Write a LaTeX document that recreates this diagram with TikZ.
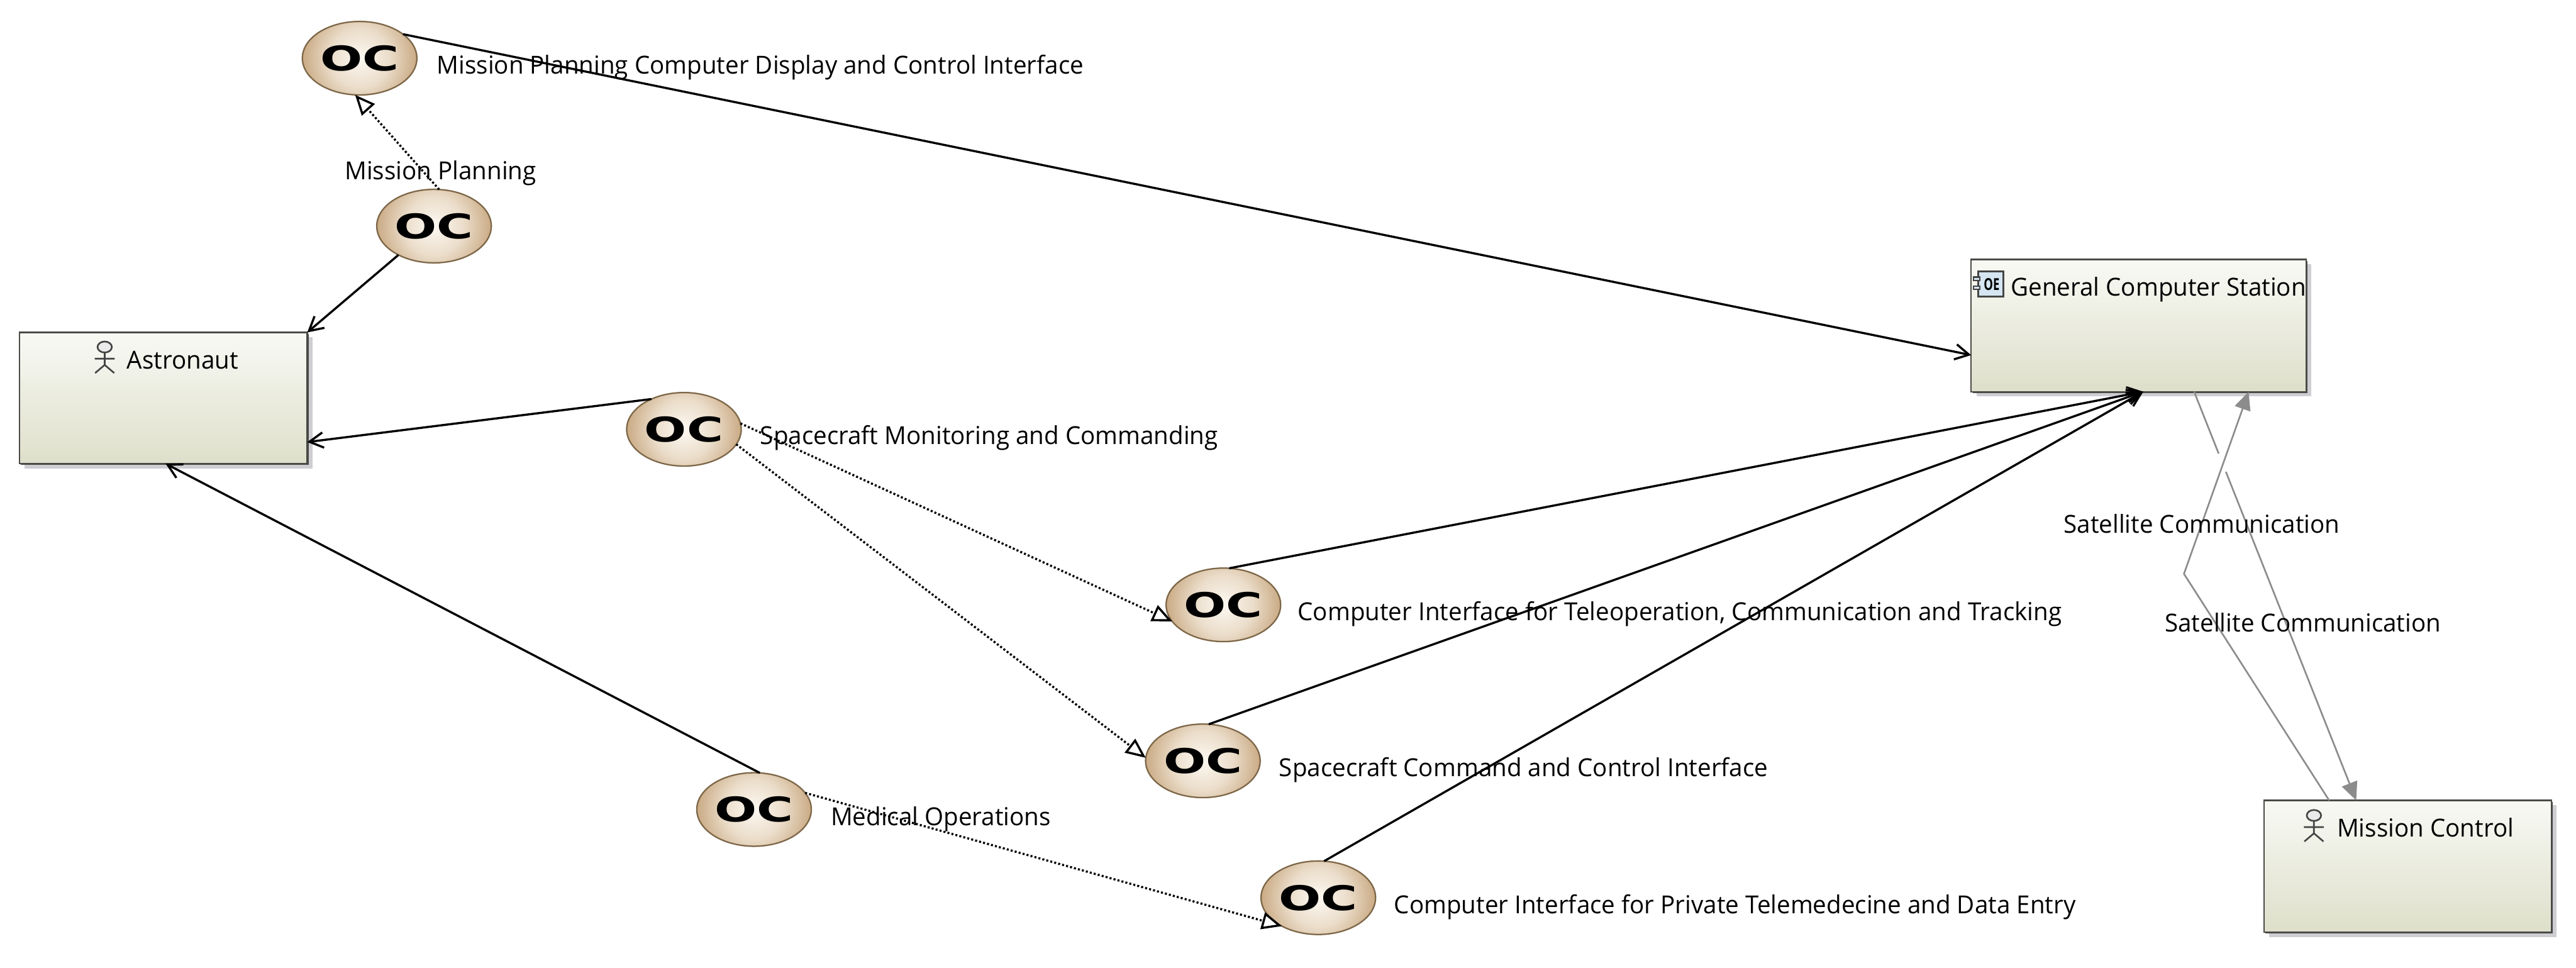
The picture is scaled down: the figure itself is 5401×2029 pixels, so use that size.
\documentclass[tikz,border=0pt]{standalone}
\usepackage{fontspec}
\usepackage{graphicx}
\usetikzlibrary{arrows.meta,shapes.geometric,shadows,calc}
\newfontfamily\lblfont[FakeStretch=0.977]{Open Sans}
\newfontfamily\ocfont[BoldFont={DejaVu Sans Bold}]{DejaVu Sans}
\definecolor{boxtop}{HTML}{F8F9F4}
\definecolor{boxbot}{HTML}{DEDFCA}
\definecolor{boxline}{HTML}{4A4A46}
\definecolor{shadowgrey}{HTML}{CDCDD2}
\definecolor{ocline}{HTML}{7D6748}
\definecolor{linkgrey}{HTML}{8C8C8C}
\definecolor{actline}{HTML}{454545}
\definecolor{compfill}{HTML}{D5E6F2}
\pgfdeclareradialshading{ocrad}{\pgfpointorigin}{%
  rgb(0bp)=(0.99,0.975,0.95);
  rgb(12.5bp)=(0.92,0.865,0.79);
  rgb(25bp)=(0.78,0.65,0.495);
  rgb(50bp)=(0.78,0.65,0.495)}
\tikzset{
  ocnode/.style={ellipse,draw=ocline,line width=0.03cm,minimum width=2.4cm,minimum height=1.54cm,
    inner sep=0pt,outer sep=0pt,
    path picture={\shade[shading=ocrad] (path picture bounding box.center) circle (1.25cm);}},
  boxnode/.style={rectangle,draw=boxline,line width=0.03cm,top color=boxtop,bottom color=boxbot,
    inner sep=0pt,outer sep=0pt,
    drop shadow={shadow xshift=0.11cm,shadow yshift=-0.1cm,fill=shadowgrey,opacity=1},
    drop shadow={shadow xshift=0.03cm,shadow yshift=-0.03cm,fill=boxline,opacity=1}},
  lbl/.style={anchor=base west,inner sep=0pt,outer sep=0pt,text=black,font=\lblfont\fontsize{14.8}{18}\selectfont},
  assoc/.style={draw=black,line width=0.045cm,-{Straight Barb[length=0.29cm,width=0.32cm]}},
  realize/.style={draw=black,line width=0.045cm,dash pattern=on 0.042cm off 0.044cm,
    -{Triangle[open,fill=white,length=0.42cm,width=0.36cm]}},
  satlink/.style={draw=linkgrey,line width=0.035cm},
  satarrow/.style={-{Triangle[length=0.38cm,width=0.34cm]}},
  actoricon/.pic={
    \draw[actline,line width=0.035cm,fill=black!8] (0,11.5) ellipse [x radius=0.15cm,y radius=0.115cm];
    \draw[actline,line width=0.035cm] (0,23) -- (0,49) (-21,36) -- (21,36) (-20,66) -- (0,49) -- (20,66);
  }
}
\newcommand{\ocmark}{\resizebox{1.65cm}{0.53cm}{\ocfont\bfseries OC}}
\begin{document}
\begin{tikzpicture}[x=0.01cm,y=-0.01cm]
\useasboundingbox (0,0) rectangle (5401,2029);
\fill[white] (0,0) rectangle (5401,2029);

% boxes
\node[boxnode,minimum width=6.03cm,minimum height=2.75cm] (astro) at (342.5,834.5) {};
\node[boxnode,minimum width=7.02cm,minimum height=2.77cm] (gcs) at (4484,682.5) {};
\node[boxnode,minimum width=6.02cm,minimum height=2.76cm] (mc) at (5048,1816) {};

% use-case ellipses
\node[ocnode] (e1) at (754,122) {\ocmark};
\node[ocnode] (e2) at (910,474) {\ocmark};
\node[ocnode] (mon) at (1434,900) {\ocmark};
\node[ocnode] (tel) at (2565,1268) {\ocmark};
\node[ocnode] (scc) at (2522,1595) {\ocmark};
\node[ocnode] (tm) at (2764,1882) {\ocmark};
\node[ocnode] (med) at (1581,1697) {\ocmark};

% connectors
\draw[assoc] (e1.29.7) -- (gcs.190.85);
\draw[realize] (e2.82.6) -- (e1.-97);
\draw[assoc] (e2.219.4) -- (astro.north east);
\draw[assoc] (mon.137.5) -- (astro.-17.2);
\draw[realize] (mon.6.2) -- (tel.198.9);
\draw[realize] (mon.344) -- (scc.177.6);
\draw[assoc] (med.81.8) -- (astro.-88.1);
\draw[realize] (med.18.3) -- (tm.218.4);
\draw[assoc] (tel.81.9) -- (gcs.-86.7);
\draw[assoc] (scc.81.1) -- (gcs.-86.7);
\draw[assoc] (tm.81.9) -- (gcs.-86.7);

% grey satellite links
\coordinate (gapa) at ($(gcs.-50.3)!0.1515!(mc.128)$);
\coordinate (gapb) at ($(gcs.-50.3)!0.196!(mc.128)$);
\coordinate (bend) at (4579,1203);
\draw[satlink] (gcs.-50.3) -- (gapa);
\draw[satlink,satarrow] (gapb) -- (mc.128);
\draw[satlink,satarrow] (mc.140.9) -- (bend) -- (gcs.-31.5);

% icons
\pic at (219.5,716) {actoricon};
\pic at (4851.5,1698) {actoricon};
\draw[actline,line width=0.04cm,fill=compfill] (4147,569) rectangle (4200,622);
\draw[actline,line width=0.03cm,fill=compfill] (4138,581) rectangle (4151,588) (4138,600) rectangle (4151,607);
\node[inner sep=0pt,outer sep=0pt] (oeicon) at (4176,596) {\resizebox{0.33cm}{0.25cm}{\lblfont\bfseries OE}};

% labels
\node[lbl] (lastro) at (266,773) {Astronaut};
\node[lbl] (lgcs) at (4216,621) {General Computer Station};
\node[lbl] (lmc) at (4900,1755) {Mission Control};
\node[lbl] (l1) at (916,155) {Mission Planning Computer Display and Control Interface};
\node[lbl] (l2) at (723,377) {Mission Planning};
\node[lbl] (l3) at (1594,932) {Spacecraft Monitoring and Commanding};
\node[lbl] (l4) at (2721,1301) {Computer Interface for Teleoperation, Communication and Tracking};
\node[lbl] (l5) at (2682,1628) {Spacecraft Command and Control Interface};
\node[lbl] (l6) at (1742,1730) {Medical Operations};
\node[lbl] (l7) at (2923,1915) {Computer Interface for Private Telemedecine and Data Entry};
\node[lbl] (l8) at (4327,1117) {Satellite Communication};
\node[lbl] (l9) at (4539,1324) {Satellite Communication};
\end{tikzpicture}
\end{document}
